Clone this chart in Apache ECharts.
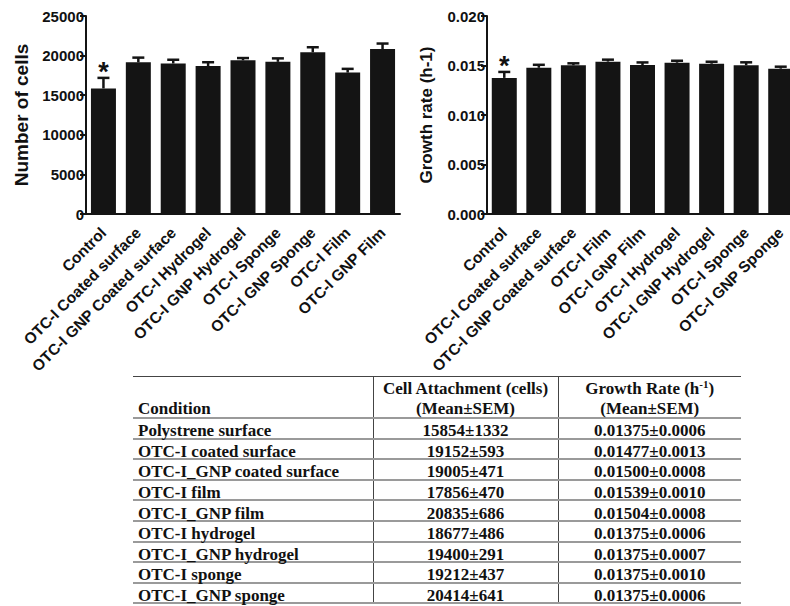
<!DOCTYPE html>
<html>
<head>
<meta charset="utf-8">
<script src="https://cdn.jsdelivr.net/npm/echarts@6/dist/echarts.min.js"></script>
<style>
html, body { margin: 0; padding: 0; width: 790px; height: 606px; overflow: hidden; background: #fff; }
#chart { position: absolute; left: 0; top: 0; width: 790px; height: 606px; }
#tbl { position: absolute; left: 133px; top: 376px; border-collapse: collapse; table-layout: fixed;
  font-family: "Liberation Serif", "Times New Roman", serif; font-weight: bold; font-size: 17px; color: #111; }
#tbl td, #tbl th { padding: 0; font-weight: bold; white-space: nowrap; }
#tbl thead th { border-top: 1px solid #444; border-bottom: 2px solid #9a9a9a; height: 39px; line-height: 20px; vertical-align: bottom; }
#tbl tbody td { border-bottom: 2px solid #9a9a9a; height: 18.6px; line-height: 18px; vertical-align: middle; }
#tbl span { position: relative; top: 3px; }
#tbl thead span { top: 2px; }
#tbl .c1 { text-align: left; padding-left: 5px; }
#tbl .c2, #tbl .c3 { text-align: center; border-left: 1px solid #444; }
#tbl sup { font-size: 11px; line-height: 0; vertical-align: 6px; }
</style>
</head>
<body>
<div id="chart"></div>
<table id="tbl">
  <colgroup><col style="width:240px"><col style="width:185px"><col style="width:183px"></colgroup>
  <thead><tr id="headRow"></tr></thead>
  <tbody id="tbody"></tbody>
</table>
<script>
// ---- Chart 1: Number of cells ----
const cellCategories = ['Control', 'OTC-I Coated surface', 'OTC-I GNP Coated surface', 'OTC-I Hydrogel',
  'OTC-I GNP Hydrogel', 'OTC-I Sponge', 'OTC-I GNP Sponge', 'OTC-I Film', 'OTC-I GNP Film'];
const cellMean = [15854, 19152, 19005, 18677, 19400, 19212, 20414, 17856, 20835];
const cellSem = [1332, 593, 471, 486, 291, 437, 641, 470, 686];
const cellMarks = ['*', '', '', '', '', '', '', '', ''];
const cellTicks = [0, 5000, 10000, 15000, 20000, 25000];

// ---- Chart 2: Growth rate ----
const rateCategories = ['Control', 'OTC-I Coated surface', 'OTC-I GNP Coated surface', 'OTC-I Film',
  'OTC-I GNP Film', 'OTC-I Hydrogel', 'OTC-I GNP Hydrogel', 'OTC-I Sponge', 'OTC-I GNP Sponge'];
const rateMean = [0.01375, 0.01477, 0.01502, 0.01539, 0.01504, 0.01528, 0.01518, 0.01502, 0.01468];
const rateSem = [0.0006, 0.0003, 0.0002, 0.0002, 0.00027, 0.0002, 0.0002, 0.0003, 0.0002];
const rateMarks = ['*', '', '', '', '', '', '', '', ''];
const rateTicks = [0, 0.005, 0.010, 0.015, 0.020];

// ---- Table ----
const tableHeaders = ['Condition', 'Cell Attachment (cells)<br>(Mean±SEM)', 'Growth Rate (h<sup>-1</sup>)<br>(Mean±SEM)'];
const tableConditions = ['Polystrene surface', 'OTC-I coated surface', 'OTC-I_GNP coated surface', 'OTC-I film',
  'OTC-I_GNP film', 'OTC-I hydrogel', 'OTC-I_GNP hydrogel', 'OTC-I sponge', 'OTC-I_GNP sponge'];
const tableCells = ['15854±1332', '19152±593', '19005±471', '17856±470', '20835±686', '18677±486',
  '19400±291', '19212±437', '20414±641'];
const tableRates = ['0.01375±0.0006', '0.01477±0.0013', '0.01500±0.0008', '0.01539±0.0010', '0.01504±0.0008',
  '0.01375±0.0006', '0.01375±0.0007', '0.01375±0.0010', '0.01375±0.0006'];

// build table
(function () {
  const hr = document.getElementById('headRow');
  tableHeaders.forEach((h, i) => {
    const th = document.createElement('th');
    th.className = 'c' + (i + 1);
    const sp = document.createElement('span');
    sp.innerHTML = h;
    th.appendChild(sp);
    hr.appendChild(th);
  });
  const tb = document.getElementById('tbody');
  tableConditions.forEach((c, i) => {
    const tr = document.createElement('tr');
    [c, tableCells[i], tableRates[i]].forEach((t, j) => {
      const td = document.createElement('td');
      td.className = 'c' + (j + 1);
      const sp = document.createElement('span');
      sp.textContent = t;
      td.appendChild(sp);
      tr.appendChild(td);
    });
    tb.appendChild(tr);
  });
})();

const INK = '#141414';
const FONT = '"Liberation Sans", Arial, Helvetica, sans-serif';

function errRender(marks) {
  return function (params, api) {
    const i = api.value(0);
    const base = api.coord([i, api.value(1)]);
    const top = api.coord([i, api.value(2)]);
    const children = [
      { type: 'line', shape: { x1: base[0], y1: base[1], x2: top[0], y2: top[1] }, style: { stroke: INK, lineWidth: 2.5 } },
      { type: 'line', shape: { x1: top[0] - 6, y1: top[1], x2: top[0] + 6, y2: top[1] }, style: { stroke: INK, lineWidth: 2.5 } }
    ];
    if (marks[i]) {
      children.push({ type: 'text', style: { text: marks[i], x: top[0], y: top[1] - 6, align: 'center', verticalAlign: 'middle',
        font: 'bold 27px ' + FONT, fill: '#111' } });
    }
    return { type: 'group', children: children };
  };
}

function xAxisCfg(cats, gridIndex) {
  return {
    type: 'category', gridIndex: gridIndex, data: cats,
    axisLine: { lineStyle: { color: INK, width: 2 } },
    axisTick: { alignWithLabel: true, length: 6, lineStyle: { color: INK, width: 2 } },
    axisLabel: { interval: 0, rotate: 45, margin: 16, color: '#111', fontSize: 15.5, fontWeight: 'bold', fontFamily: FONT },
    splitLine: { show: false }
  };
}

function yAxisCfg(ticks, gridIndex, name, gap, fontSize, fmt) {
  return {
    type: 'value', gridIndex: gridIndex,
    min: ticks[0], max: ticks[ticks.length - 1], interval: ticks[1] - ticks[0],
    name: name, nameLocation: 'middle', nameGap: gap,
    nameTextStyle: { color: '#111', fontSize: fontSize, fontWeight: 'bold', fontFamily: FONT },
    axisLine: { show: true, lineStyle: { color: INK, width: 2 } },
    axisTick: { show: true, length: 6, lineStyle: { color: INK, width: 2 } },
    axisLabel: { margin: 2, color: '#111', fontSize: 15, fontWeight: 'bold', fontFamily: FONT, formatter: fmt },
    splitLine: { show: false }
  };
}

const chart = echarts.init(document.getElementById('chart'), null, { renderer: 'svg' });
chart.setOption({
  animation: false,
  backgroundColor: 'transparent',
  grid: [
    { left: 86, top: 16, width: 314, height: 198, containLabel: false, outerBoundsMode: 'none' },
    { left: 487, top: 16, width: 311, height: 198, containLabel: false, outerBoundsMode: 'none' }
  ],
  xAxis: [xAxisCfg(cellCategories, 0), xAxisCfg(rateCategories, 1)],
  yAxis: [
    yAxisCfg(cellTicks, 0, 'Number of cells', 55, 19, v => String(v)),
    yAxisCfg(rateTicks, 1, 'Growth rate (h-1)', 52, 17, v => v.toFixed(3))
  ],
  series: [
    { type: 'bar', xAxisIndex: 0, yAxisIndex: 0, data: cellMean, barWidth: 25, itemStyle: { color: INK } },
    { type: 'custom', xAxisIndex: 0, yAxisIndex: 0, renderItem: errRender(cellMarks),
      data: cellMean.map((m, i) => [i, m, m + cellSem[i]]), encode: { x: 0, y: [1, 2] }, z: 3 },
    { type: 'bar', xAxisIndex: 1, yAxisIndex: 1, data: rateMean, barWidth: 25, itemStyle: { color: INK } },
    { type: 'custom', xAxisIndex: 1, yAxisIndex: 1, renderItem: errRender(rateMarks),
      data: rateMean.map((m, i) => [i, m, m + rateSem[i]]), encode: { x: 0, y: [1, 2] }, z: 3 }
  ]
});
</script>
</body>
</html>
